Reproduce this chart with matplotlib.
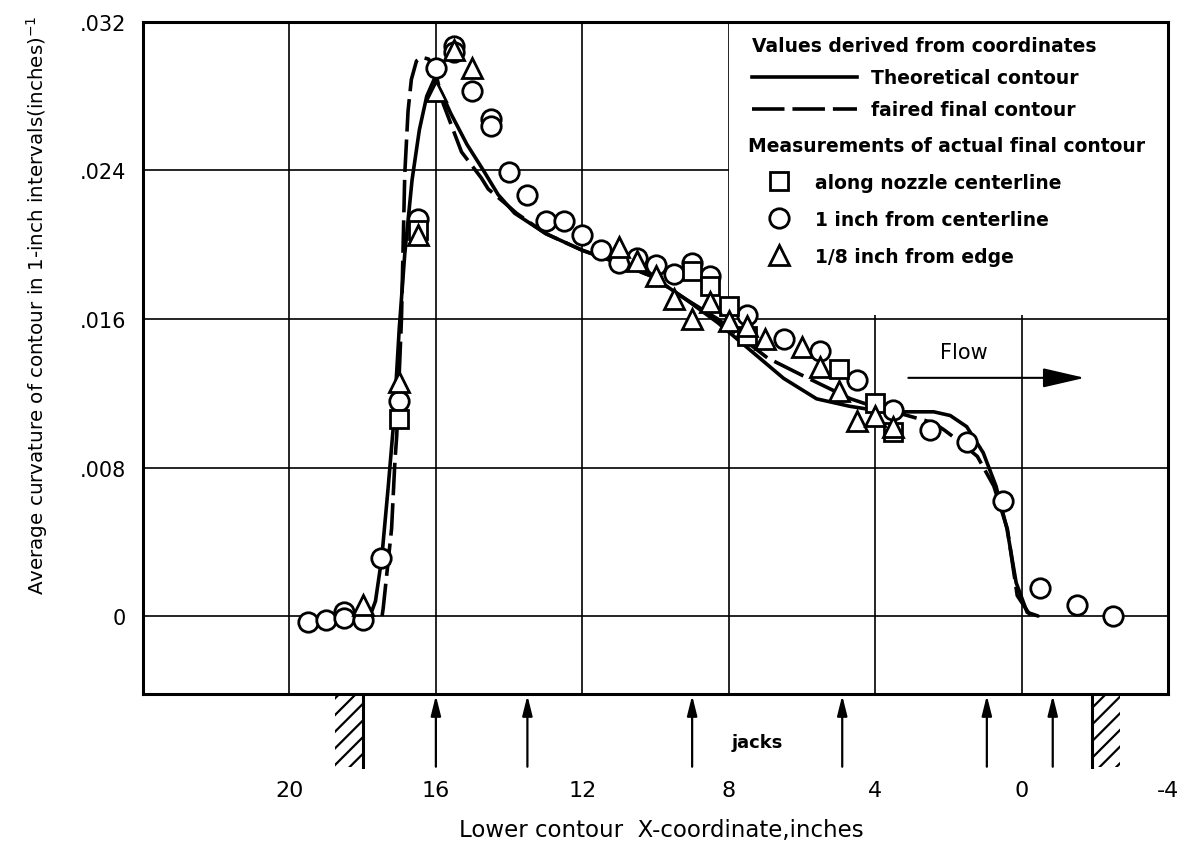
import matplotlib.pyplot as plt
from matplotlib.lines import Line2D
from matplotlib.patches import Rectangle

# theoretical contour (solid line)
theo_x = [17.80, 17.65, 17.48, 17.30, 17.15, 17.00, 16.85, 16.65, 16.45, 16.25, 16.05,
          15.85, 15.60, 15.15, 14.70, 14.30, 13.85, 13.00, 12.00, 11.00, 10.10, 9.20,
          8.30, 7.40, 6.50, 5.60, 4.70, 3.75, 2.40, 1.95, 1.50, 1.05, 0.70, 0.40, 0.15,
          -0.15, -0.45]
theo_y = [0.0000, 0.0008, 0.0031, 0.0070, 0.0105, 0.0155, 0.0195, 0.0235, 0.0262, 0.0280, 0.0289,
          0.0282, 0.0271, 0.0254, 0.0240, 0.0227, 0.0217, 0.0206, 0.0197, 0.0190, 0.0183, 0.0171,
          0.0158, 0.0143, 0.0128, 0.0117, 0.0113, 0.0110, 0.0110, 0.0108, 0.0102, 0.0088, 0.0070,
          0.0047, 0.0018, 0.0002, 0.0000]

# faired final contour (dashed line)
faired_x = [17.47, 17.44, 17.21, 17.12, 17.07, 16.94, 16.85, 16.76, 16.67, 16.53, 16.39, 16.20,
            16.00, 15.80, 15.30, 15.03, 14.76, 14.57, 14.03, 13.80, 13.00, 12.00, 11.00, 10.10,
            9.20, 8.30, 7.40, 6.94, 6.03, 5.30, 4.67, 3.76, 3.30, 2.40, 2.10, 1.70, 1.21, 0.76,
            0.39, 0.12, -0.25]
faired_y = [0.0000, 0.0004, 0.0047, 0.0083, 0.0097, 0.0160, 0.0238, 0.0272, 0.0289, 0.0299, 0.0301, 0.0300,
            0.0292, 0.0276, 0.0250, 0.0243, 0.0236, 0.0230, 0.0221, 0.0217, 0.0206, 0.0197, 0.0190, 0.0183,
            0.0171, 0.0160, 0.0146, 0.0139, 0.0130, 0.0123, 0.0117, 0.0111, 0.0109, 0.0104, 0.0100, 0.0094,
            0.0086, 0.0070, 0.0047, 0.0011, 0.0000]

# measurements along nozzle centerline
square_x = [17.0, 16.5, 9.0, 8.5, 8.0, 7.5, 5.0, 4.0, 3.5]
square_y = [0.0106, 0.0208, 0.0186, 0.0178, 0.0167, 0.0151, 0.0133, 0.0115, 0.0099]

# measurements 1 inch from centerline
circle_x = [19.5, 19.0, 18.5, 18.5, 18.0, 17.5, 17.0, 16.5, 16.0, 15.5, 15.5, 15.0, 14.5, 14.5,
            14.0, 13.5, 13.0, 12.5, 12.0, 11.5, 11.0, 10.5, 10.0, 9.5, 9.0, 8.5, 7.5, 6.5, 5.5,
            4.5, 3.5, 2.5, 1.5, 0.5, -0.5, -1.5, -2.5]
circle_y = [-0.0003, -0.0002, 0.0002, -0.0001, -0.0002, 0.0031, 0.0116, 0.0214, 0.0295, 0.0307, 0.0304,
            0.0283, 0.0268, 0.0264, 0.0239, 0.0227, 0.0213, 0.0213, 0.0205, 0.0197, 0.0190, 0.0193,
            0.0189, 0.0184, 0.0190, 0.0183, 0.0162, 0.0149, 0.0143, 0.0127, 0.0111, 0.0100, 0.0094,
            0.0062, 0.0015, 0.0006, 0.0000]

# measurements 1/8 inch from edge
triangle_x = [18.0, 17.0, 16.5, 16.0, 15.5, 15.0, 11.0, 10.5, 10.0, 9.5, 9.0, 8.5, 8.0, 7.5,
              7.0, 6.0, 5.5, 5.0, 4.5, 4.0, 3.5]
triangle_y = [0.0006, 0.0126, 0.0205, 0.0283, 0.0305, 0.0295, 0.0199, 0.0191, 0.0183, 0.0171,
              0.0160, 0.0169, 0.0159, 0.0156, 0.0149, 0.0145, 0.0134, 0.0121, 0.0105, 0.0108, 0.0102]

jack_x = [16.0, 13.5, 9.0, 4.9, 0.95, -0.85]
x_ticks = [20, 16, 12, 8, 4, 0, -4]
x_tick_labels = ['20', '16', '12', '8', '4', '0', '-4']
y_ticks = [0, 0.008, 0.016, 0.024, 0.032]
y_tick_labels = ['0', '.008', '.016', '.024', '.032']

plt.rcParams['font.family'] = 'DejaVu Sans'
plt.rcParams['hatch.linewidth'] = 1.6

fig = plt.figure(figsize=(11.77, 8.54), dpi=100)
ax = fig.add_axes([0.1215, 0.1862, 0.8709, 0.7869])
ax2 = fig.add_axes([0.1215, 0.0984, 0.8709, 0.0878])

ax.set_xlim(24, -4)
ax.set_ylim(-0.0042, 0.032)
ax.set_xticks(x_ticks)
ax.set_xticklabels([])
ax.set_yticks(y_ticks)
ax.set_yticklabels(y_tick_labels, fontsize=15)
ax.tick_params(length=0, pad=12)
ax.set_axisbelow(True)
ax.grid(True, color='black', lw=1.2)
for s in ax.spines.values():
    s.set_linewidth(2.2)

# blank area behind the key
ax.add_patch(Rectangle((8, 0.0162), -12, 0.0158, facecolor='white', edgecolor='none', zorder=1))

lw = 2.6
ax.plot(theo_x, theo_y, color='black', lw=lw, zorder=2, solid_capstyle='round')
ax.plot(faired_x, faired_y, color='black', lw=lw, dashes=(9, 2.2), zorder=2)

mk = dict(linestyle='none', mfc='white', mec='black', mew=2.0, zorder=3)
ax.plot(circle_x, circle_y, marker='o', ms=14, **mk)
ax.plot(square_x, square_y, marker='s', ms=13.5, **mk)
ax.plot(triangle_x, triangle_y, marker='^', ms=14, **mk)

ax.set_ylabel('Average curvature of contour in 1-inch intervals(inches)$^{-1}$', fontsize=14.3)
ax.yaxis.set_label_coords(-0.091, 0.58)

# key
kfont = {'weight': 'bold', 'size': 13.5}
h_lines = [Line2D([], [], color='black', lw=lw),
           Line2D([], [], color='black', lw=lw, dashes=(9, 2.2))]
leg1 = ax.legend(h_lines, ['Theoretical contour', 'faired final contour'],
                 title='Values derived from coordinates', alignment='left',
                 loc='upper left', bbox_to_anchor=(0.594, 0.979), frameon=False,
                 handlelength=5.6, handletextpad=0.75, labelspacing=0.7, borderpad=0,
                 borderaxespad=0, prop=kfont, title_fontproperties=kfont)
ax.add_artist(leg1)
h_marks = [Line2D([], [], marker='s', ms=13.5, **mk),
           Line2D([], [], marker='o', ms=14, **mk),
           Line2D([], [], marker='^', ms=14, **mk)]
ax.legend(h_marks, ['along nozzle centerline', '1 inch from centerline', '1/8 inch from edge'],
          title='Measurements of actual final contour', alignment='left',
          loc='upper left', bbox_to_anchor=(0.590, 0.830), frameon=False,
          handlelength=3.3, handletextpad=0.3, labelspacing=0.95, borderpad=0,
          borderaxespad=0, prop=kfont, title_fontproperties=kfont)

# flow arrow
ax.annotate('', xy=(-1.8, 0.01283), xytext=(3.17, 0.01283),
            arrowprops=dict(arrowstyle='-|>,head_length=1.3,head_width=0.3',
                            color='black', lw=1.5, mutation_scale=20))
ax.text(1.58, 0.01369, 'Flow', fontsize=15, ha='center', va='bottom')

# jacks and end walls below the plot
ax2.set_xlim(24, -4)
ax2.set_ylim(0, 1)
for s in ax2.spines.values():
    s.set_visible(False)
ax2.set_yticks([])
ax2.set_xticks(x_ticks)
ax2.set_xticklabels(x_tick_labels, fontsize=16)
ax2.tick_params(length=0, pad=8)
ax2.patch.set_alpha(0)
for jx in jack_x:
    ax2.annotate('', xy=(jx, 0.98), xytext=(jx, 0.03),
                 arrowprops=dict(arrowstyle='-|>,head_length=1.0,head_width=0.25',
                                 color='black', lw=1.6, mutation_scale=12,
                                 shrinkA=0, shrinkB=0))
ax2.add_patch(Rectangle((18.0, 0.03), 0.75, 0.95, hatch='//', fill=False, lw=0, edgecolor='black'))
ax2.add_patch(Rectangle((-1.93, 0.03), -0.77, 0.95, hatch='//', fill=False, lw=0, edgecolor='black'))
ax2.plot([18.0, 18.0], [0.03, 0.98], color='black', lw=2.2)
ax2.plot([-1.93, -1.93], [0.03, 0.98], color='black', lw=2.2)
ax2.text(7.23, 0.36, 'jacks', fontsize=13, fontweight='bold', ha='center', va='center')
ax2.set_xlabel('Lower contour  X-coordinate,inches', fontsize=16.5)
ax2.xaxis.set_label_coords(0.506, -0.66)

fig.savefig('out.png', dpi=100)
